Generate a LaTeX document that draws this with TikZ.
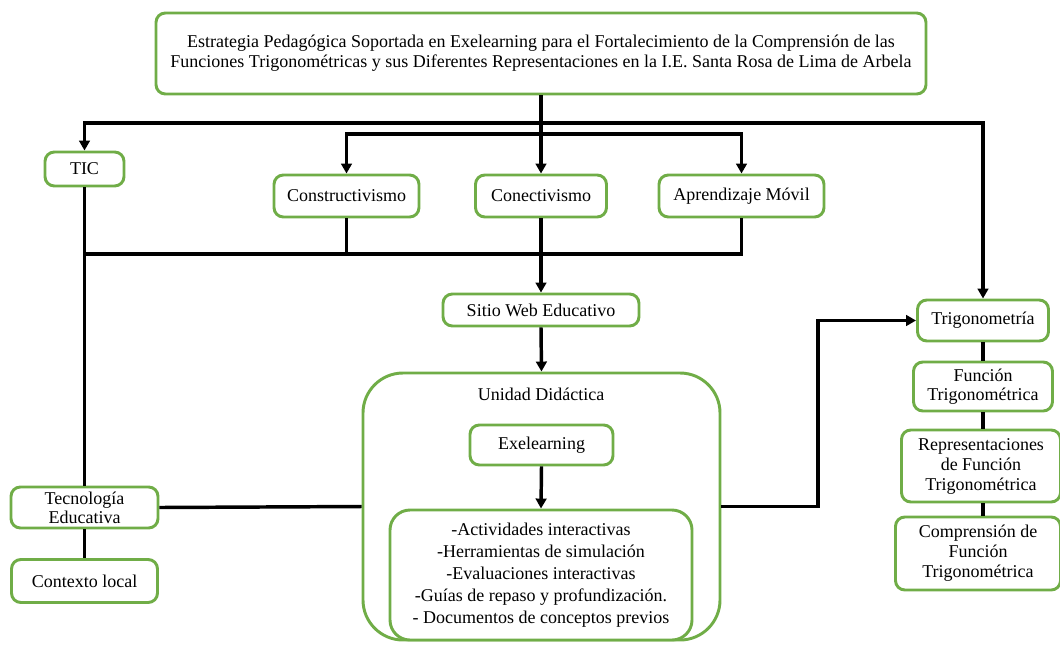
\documentclass[tikz,border=0pt]{standalone}
\usepackage{fontspec}
\setmainfont{Liberation Serif}
\usetikzlibrary{arrows.meta}
\definecolor{boxgreen}{HTML}{70AD47}
\tikzset{
  box/.style={draw=boxgreen, line width=2.2pt, rounded corners=7pt, fill=white, align=center, inner sep=2pt, font=\fontsize{13.5}{15}\selectfont},
  conn/.style={line width=2.6pt, black},
  arr/.style={conn, -{Triangle[length=7.5pt,width=8pt]}},
}
\begin{document}
\begin{tikzpicture}[x=0.75pt,y=-0.75pt]
\useasboundingbox (0,0) rectangle (1060,644);
% nodes
\node[box, minimum width=577.5pt, minimum height=60.75pt] (title) at (541,53.5)
  {Estrategia Pedagógica Soportada en Exelearning para el Fortalecimiento de la Comprensión de las\\
   Funciones Trigonométricas y sus Diferentes Representaciones en la I.E. Santa Rosa de Lima de Arbela};
\node[box, minimum width=59.25pt, minimum height=25.5pt] (tic) at (84.5,169) {TIC};
\node[box, minimum width=108.75pt, minimum height=31.5pt] (cons) at (346.5,196) {Constructivismo};
\node[box, minimum width=98.25pt, minimum height=31.5pt] (con) at (541,196) {Conectivismo};
\node[box, minimum width=123.75pt, minimum height=31.5pt] (apr) at (741.5,196) {Aprendizaje Móvil};
\node[box, minimum width=147pt, minimum height=24pt] (web) at (541,310) {Sitio Web Educativo};
\node[box, rounded corners=30pt, minimum width=267.75pt, minimum height=200.25pt] (ud) at (541.5,506.5) {};
\node[font=\fontsize{13.5}{15}\selectfont] (udl) at (541,394) {Unidad Didáctica};
\node[box, minimum width=107.25pt, minimum height=30pt] (exe) at (541.5,445) {Exelearning};
\node[box, rounded corners=15pt, minimum width=226.5pt, minimum height=97.5pt, font=\fontsize{13.5}{16.5}\selectfont] (act) at (541,575)
  {-Actividades interactivas\\-Herramientas de simulación\\-Evaluaciones interactivas\\-Guías de repaso y profundización.\\- Documentos de conceptos previos};
\node[box, minimum width=110.25pt, minimum height=30.75pt, font=\fontsize{13.5}{14}\selectfont] (tec) at (84.5,507.5) {Tecnología\\Educativa};
\node[box, minimum width=109.5pt, minimum height=32.25pt] (ctx) at (84.5,581) {Contexto local};
\node[box, minimum width=98.25pt, minimum height=30.75pt] (trig) at (983,320.5) {Trigonometría};
\node[box, minimum width=104.25pt, minimum height=36.75pt, font=\fontsize{13.5}{14}\selectfont] (fun) at (983,386.5) {Función\\Trigonométrica};
\node[box, minimum width=119.25pt, minimum height=54pt] (rep) at (981,466) {Representaciones\\de Función\\Trigonométrica};
\node[box, minimum width=123.75pt, minimum height=54.75pt] (com) at (978,553.5) {Comprensión de\\Función\\Trigonométrica};
% junctions
\coordinate (j1) at (541,123);
\coordinate (j2) at (541,134);
\coordinate (j3) at (541,254);
\coordinate (j4) at (818,510);
% connectors
\draw[arr] (title.south) -- (con.north);
\draw[arr] (j1) -| (tic.north);
\draw[arr] (j1) -| (trig.north);
\draw[arr] (j2) -| (cons.north);
\draw[arr] (j2) -| (apr.north);
\draw[conn] (cons.south) |- (j3);
\draw[conn] (apr.south) |- (j3);
\draw[conn] (j3) -- (j3 -| tic.south);
\draw[arr] (con.south) -- (web.north);
\draw[conn] (tic.south) -- (tec.north);
\draw[arr] (web.south) -- (ud.north);
\draw[arr] (exe.south) -- (act.north);
\draw[conn] (tec.east) -- (ud.west);
\draw[conn] (tec.south) -- (ctx.north);
\draw[arr] (ud.east) -- (ud.east -| j4) |- (trig.west);
\draw[conn] (trig.south) -- (fun.north);
\draw[conn] (fun.south) -- (rep.north -| fun.south);
\draw[conn] (rep.south -| fun.south) -- (com.north -| fun.south);
\end{tikzpicture}
\end{document}
